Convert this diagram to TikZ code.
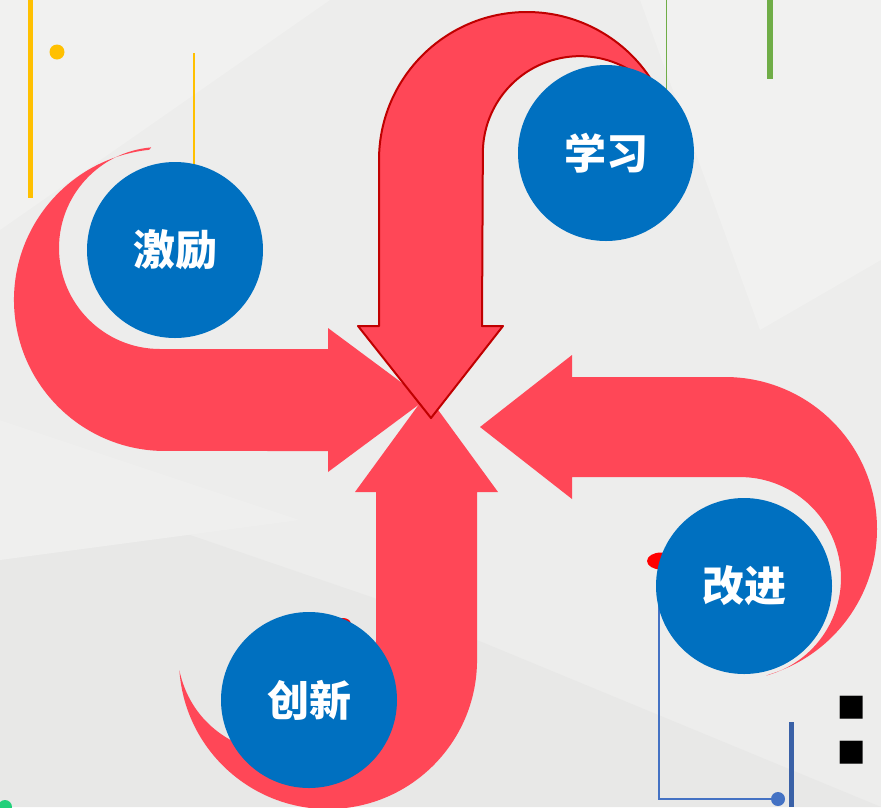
\documentclass[tikz,border=0pt]{standalone}
\usepackage{fontspec}
\newfontfamily\cjk{Noto Sans CJK SC}
\newfontfamily\symb{DejaVu Sans}
\definecolor{bg}{HTML}{EDEDEC}
\definecolor{bglight}{HTML}{F1F1F0}
\definecolor{bgdark}{HTML}{E8E8E7}
\definecolor{redA}{HTML}{FF4757}
\definecolor{darkR}{HTML}{C00000}
\definecolor{blueC}{HTML}{0070C0}
\definecolor{yel}{HTML}{FFC000}
\definecolor{grn}{HTML}{70AD47}
\definecolor{blueL}{HTML}{4472C4}
\definecolor{grnDot}{HTML}{21D07A}
\tikzset{
  bubble/.style={circle, fill=blueC, minimum size=176pt, inner sep=0pt, text=white,
    font=\cjk\bfseries\fontsize{42}{46}\selectfont},
  arrowfill/.style={fill=redA},
  bullet/.style={inner sep=0pt, font=\symb\fontsize{30}{30}\selectfont}
}
\begin{document}
\begin{tikzpicture}[x=1pt,y=-1pt]
\useasboundingbox (0,0) rectangle (881,807);
% background
\fill[bg] (0,0) rectangle (881,807);
\fill[bglight] (0,0) -- (330,0) -- (0,230) -- cycle;
\fill[bglight] (640,0) -- (881,0) -- (881,260) -- (760,330) -- cycle;
\fill[bgdark] (0,470) -- (380,600) -- (881,807) -- (0,807) -- cycle;
\fill[bglight!60!bg] (0,420) -- (300,520) -- (0,560) -- cycle;
% decorations
\draw[yel, line width=5pt] (30.5,0) -- (30.5,198);
\fill[yel] (57,52) circle[radius=7.5];
\draw[yel, line width=1.5pt] (194,53) -- (194,170);
\draw[grn, line width=1pt] (666,0) -- (666,100);
\draw[grn, line width=6pt] (770,0) -- (770,79);
\fill[red] (661,561) ellipse[x radius=14, y radius=8.5];
\fill[red] (343,624) ellipse[x radius=8, y radius=6];
\draw[blueL, line width=1.3pt] (659,570) |- (778,799);
\fill[blueL] (778,799) circle[radius=7];
\draw[blueL!85!black, line width=5pt] (791,722) -- (791,807);
\fill[grnDot] (5,807) circle[radius=7];
% left arrow (激励)
\fill[arrowfill] (328,349) -- (160,349) arc[start angle=90, end angle=265, radius=101]
  -- (149.2,149.8) arc[start angle=264, end angle=90, radius=151]
  -- (328,451) -- (328,472) -- (425,400) -- (328,328) -- cycle;
% right arrow (改进)
\fill[arrowfill] (572,377) -- (725,377) arc[start angle=270, end angle=433, radius=152]
  -- (766.1,675.6) arc[start angle=75, end angle=-90, radius=101]
  -- (572,477) -- (572,499) -- (480,427) -- (572,355) -- cycle;
% bottom arrow (创新)
\fill[arrowfill] (355,492) -- (376,492) -- (376,640)
  .. controls (376,720) and (330,760) .. (280,755)
  .. controls (230,750) and (190,720) .. (179.4,670.4)
  arc[start angle=176, end angle=0, radius=149]
  -- (477,492) -- (498,492) -- (426.5,394) -- cycle;
% top arrow (学习)
\filldraw[arrowfill, draw=darkR, line width=2pt, line join=round]
  (379,326) -- (379,160) arc[start angle=180, end angle=330, radius=148]
  -- (671,120) arc[start angle=340, end angle=180, radius=97]
  -- (482,326) -- (503,326) -- (431,418) -- (358,326) -- cycle;
% circles
\node[bubble] (jl) at (175,250) {激励};
\node[bubble] (xx) at (606,153) {学习};
\node[bubble] (gj) at (744,586) {改进};
\node[bubble] (cx) at (309,700) {创新};
% bullets
\node[bullet] (b1) at (852,708) {■};
\node[bullet] (b2) at (852,753) {■};
\end{tikzpicture}
\end{document}
